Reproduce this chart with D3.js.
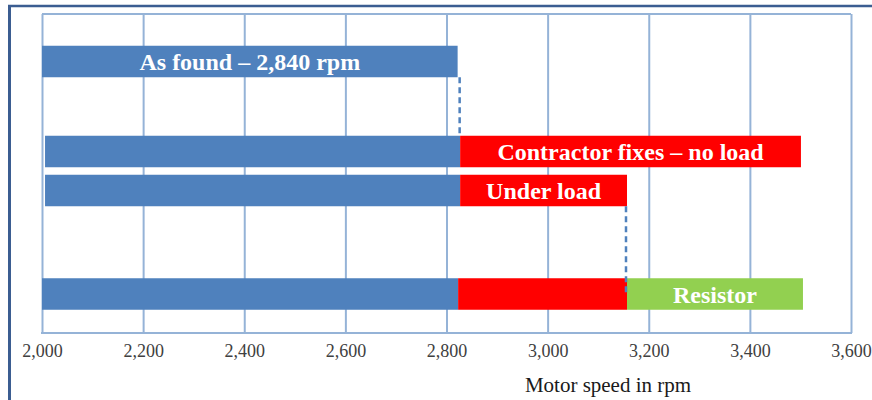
<!DOCTYPE html>
<html>
<head>
<meta charset="utf-8">
<script src="https://cdn.jsdelivr.net/npm/d3@7"></script>
<style>
  html, body { margin: 0; padding: 0; background: #ffffff; }
  svg { display: block; }
</style>
</head>
<body>
<svg id="chart" width="872" height="400"></svg>
<script>
// ---- data ----
const categories = ["As found", "Contractor fixes – no load", "Under load", "Resistor"];
const barLabels = ["As found – 2,840 rpm", "Contractor fixes – no load", "Under load", "Resistor"];
const blueStart = [2000, 2006, 2006, 2000];
const blueEnd   = [2822, 2827, 2827, 2823];
const redEnd    = [null, 3501, 3157, 3157];
const greenEnd  = [null, null, null, 3505];
const tickValues = [2000, 2200, 2400, 2600, 2800, 3000, 3200, 3400, 3600];
const axisTitle = "Motor speed in rpm";
const dropLines = [
  { value: 2826, from: "As found", to: "Contractor fixes – no load" },
  { value: 3155, from: "Under load", to: "Resistor" }
];

// ---- layout ----
const svg = d3.select("#chart");
const plot = { left: 42, right: 851, top: 14, bottom: 333 };
const barH = 31.5;
const x = d3.scaleLinear().domain([2000, 3600]).range([plot.left, plot.right]);
const y = d3.scaleOrdinal().domain(categories).range([61.5, 151.5, 190.5, 294]);

const gridColor = "#95b3d7";
const blue = "#4f81bd", red = "#ff0000", green = "#92d050";
const serif = "'Liberation Serif', 'Times New Roman', serif";

// outer frame
svg.append("line").attr("x1", 8).attr("x2", 872).attr("y1", 6).attr("y2", 6)
  .attr("stroke", "#3b5d91").attr("stroke-width", 2.5);
svg.append("line").attr("x1", 9.5).attr("x2", 9.5).attr("y1", 5).attr("y2", 400)
  .attr("stroke", "#3b5d91").attr("stroke-width", 3);

// gridlines via axis
const grid = svg.append("g").attr("transform", `translate(0,${plot.bottom})`)
  .call(d3.axisBottom(x).tickValues(tickValues).tickSize(-(plot.bottom - plot.top)).tickFormat(""));
grid.select(".domain").remove();
grid.selectAll(".tick line").attr("stroke", gridColor).attr("stroke-width", 2);

// plot border (top, bottom)
svg.append("line").attr("x1", plot.left).attr("x2", plot.right).attr("y1", plot.top).attr("y2", plot.top)
  .attr("stroke", gridColor).attr("stroke-width", 2);
svg.append("line").attr("x1", plot.left - 1).attr("x2", plot.right + 1).attr("y1", plot.bottom).attr("y2", plot.bottom)
  .attr("stroke", gridColor).attr("stroke-width", 2);

// tick labels
const axis = svg.append("g").attr("transform", `translate(0,${plot.bottom})`)
  .call(d3.axisBottom(x).tickValues(tickValues).tickSize(0).tickPadding(0).tickFormat(d3.format(",")));
axis.select(".domain").remove();
axis.selectAll(".tick text")
  .attr("y", 24).attr("dy", 0)
  .attr("font-family", serif).attr("font-size", 18).attr("fill", "#404040");

// axis title
svg.append("text").attr("x", 608).attr("y", 392).attr("text-anchor", "middle")
  .attr("font-family", serif).attr("font-size", 21).attr("fill", "#1a1a1a").text(axisTitle);

// bars
const rows = categories.map((c, i) => ({ c, i }));
const g = svg.append("g");
rows.forEach(({ c, i }) => {
  const top = y(c) - barH / 2;
  g.append("rect").attr("x", x(blueStart[i])).attr("y", top)
    .attr("width", x(blueEnd[i]) - x(blueStart[i])).attr("height", barH).attr("fill", blue);
  if (redEnd[i] != null) {
    g.append("rect").attr("x", x(blueEnd[i])).attr("y", top)
      .attr("width", x(redEnd[i]) - x(blueEnd[i])).attr("height", barH).attr("fill", red);
  }
  if (greenEnd[i] != null) {
    g.append("rect").attr("x", x(redEnd[i])).attr("y", top)
      .attr("width", x(greenEnd[i]) - x(redEnd[i])).attr("height", barH).attr("fill", green);
  }
});

// dashed drop lines
dropLines.forEach(d => {
  svg.append("line").attr("x1", x(d.value)).attr("x2", x(d.value))
    .attr("y1", y(d.from) + barH / 2).attr("y2", d.to === "Resistor" ? y(d.to) : y(d.to) - barH / 2)
    .attr("stroke", blue).attr("stroke-width", 2.5).attr("stroke-dasharray", "6,4");
});

// bar labels (centered on their segment)
const labelSeg = [
  [blueStart[0], blueEnd[0]],
  [blueEnd[1], redEnd[1]],
  [blueEnd[2], redEnd[2]],
  [redEnd[3], greenEnd[3]]
];
rows.forEach(({ c, i }) => {
  svg.append("text")
    .attr("x", (x(labelSeg[i][0]) + x(labelSeg[i][1])) / 2)
    .attr("y", y(c) + 8.5)
    .attr("text-anchor", "middle")
    .attr("font-family", serif).attr("font-weight", "bold").attr("font-size", 24)
    .attr("fill", "#ffffff").text(barLabels[i]);
});
</script>
</body>
</html>
